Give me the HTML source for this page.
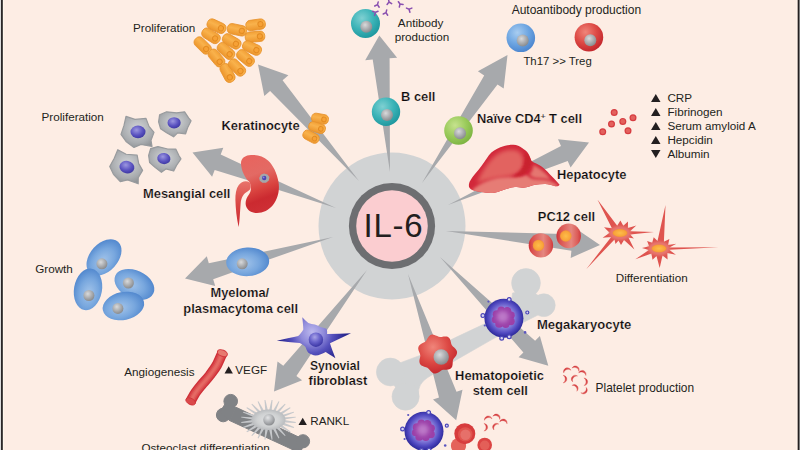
<!DOCTYPE html>
<html><head><meta charset="utf-8"><title>IL-6</title>
<style>
html,body{margin:0;padding:0;background:#FDEDE4;}
body{width:800px;height:450px;overflow:hidden;font-family:"Liberation Sans",sans-serif;}
svg{display:block;}
text{font-family:"Liberation Sans",sans-serif;fill:#231F20;}
</style></head><body>
<svg width="800" height="450" viewBox="0 0 800 450">
<defs>
<radialGradient id="gNuc" cx="40%" cy="35%" r="65%"><stop offset="0" stop-color="#D9DADB"/><stop offset="0.6" stop-color="#A9ABAE"/><stop offset="1" stop-color="#8A8C8F"/></radialGradient>
<radialGradient id="gTeal" cx="38%" cy="32%" r="70%"><stop offset="0" stop-color="#7FD0D2"/><stop offset="0.55" stop-color="#3CB4B8"/><stop offset="1" stop-color="#1E989F"/></radialGradient>
<radialGradient id="gBlue" cx="38%" cy="32%" r="70%"><stop offset="0" stop-color="#A9CDF0"/><stop offset="0.55" stop-color="#6EA6E2"/><stop offset="1" stop-color="#4C86CF"/></radialGradient>
<radialGradient id="gRed" cx="38%" cy="32%" r="70%"><stop offset="0" stop-color="#F0857A"/><stop offset="0.55" stop-color="#DD4A45"/><stop offset="1" stop-color="#C4272D"/></radialGradient>
<radialGradient id="gGreen" cx="38%" cy="32%" r="70%"><stop offset="0" stop-color="#C6E28E"/><stop offset="0.55" stop-color="#9BCB5C"/><stop offset="1" stop-color="#7DB441"/></radialGradient>
<linearGradient id="gKer" x1="0" y1="0" x2="0" y2="1"><stop offset="0" stop-color="#F2A036"/><stop offset="0.4" stop-color="#F9B24C"/><stop offset="1" stop-color="#EC952C"/></linearGradient>
<radialGradient id="gMye" cx="42%" cy="55%" r="62%"><stop offset="0" stop-color="#A3C4EA"/><stop offset="0.55" stop-color="#78A7DE"/><stop offset="1" stop-color="#4D84CC"/></radialGradient>
<radialGradient id="gMes" cx="50%" cy="40%" r="65%"><stop offset="0" stop-color="#D4D6D8"/><stop offset="0.7" stop-color="#A9ACAF"/><stop offset="1" stop-color="#8F9295"/></radialGradient>
<radialGradient id="gMesN" cx="40%" cy="35%" r="70%"><stop offset="0" stop-color="#9C97E0"/><stop offset="0.6" stop-color="#5A52C0"/><stop offset="1" stop-color="#3B35A0"/></radialGradient>
<radialGradient id="gPC" cx="50%" cy="45%" r="60%"><stop offset="0" stop-color="#F08A76"/><stop offset="0.6" stop-color="#E0524A"/><stop offset="1" stop-color="#C9302F"/></radialGradient>
<linearGradient id="gPC2" x1="0" y1="0" x2="1" y2="0"><stop offset="0" stop-color="#CF2F36"/><stop offset="0.14" stop-color="#DA504E"/><stop offset="0.6" stop-color="#E58780"/><stop offset="0.86" stop-color="#DC5C58"/><stop offset="1" stop-color="#D0383C"/></linearGradient>
<radialGradient id="gPCN" cx="50%" cy="50%" r="55%"><stop offset="0" stop-color="#FDBE4A"/><stop offset="0.7" stop-color="#F9A43A"/><stop offset="1" stop-color="#F08A35"/></radialGradient>
<radialGradient id="gMega" cx="50%" cy="48%" r="52%"><stop offset="0" stop-color="#ADA5EA"/><stop offset="0.5" stop-color="#8A82DC"/><stop offset="0.78" stop-color="#5048C0"/><stop offset="1" stop-color="#2A2798"/></radialGradient>
<radialGradient id="gMegaN" cx="50%" cy="45%" r="60%"><stop offset="0" stop-color="#D88AD0"/><stop offset="1" stop-color="#9A50B4"/></radialGradient>
<linearGradient id="gKid" x1="0.2" y1="0" x2="0.45" y2="1"><stop offset="0" stop-color="#E8645E"/><stop offset="0.35" stop-color="#E36A64"/><stop offset="0.62" stop-color="#D9433F"/><stop offset="0.8" stop-color="#CB2A30"/><stop offset="1" stop-color="#CE2F35"/></linearGradient>
<linearGradient id="gUre" x1="0" y1="0" x2="0" y2="1"><stop offset="0" stop-color="#E8736B"/><stop offset="0.5" stop-color="#DA4644"/><stop offset="1" stop-color="#CC2A31"/></linearGradient>
<linearGradient id="gLiv" x1="0.1" y1="0.9" x2="0.6" y2="0.1"><stop offset="0" stop-color="#D1222F"/><stop offset="0.3" stop-color="#DB4145"/><stop offset="0.6" stop-color="#DE504E"/><stop offset="1" stop-color="#D4323A"/></linearGradient>
<linearGradient id="gVes" x1="0" y1="0" x2="1" y2="0.6"><stop offset="0" stop-color="#EE7C70"/><stop offset="0.5" stop-color="#DA4A46"/><stop offset="1" stop-color="#C2272D"/></linearGradient>
<radialGradient id="gSyn" gradientUnits="userSpaceOnUse" cx="312" cy="332" r="34"><stop offset="0" stop-color="#BDB9EE"/><stop offset="0.35" stop-color="#8F8ADA"/><stop offset="0.62" stop-color="#5550BC"/><stop offset="1" stop-color="#25238C"/></radialGradient>
<radialGradient id="gSynN" cx="42%" cy="32%" r="68%"><stop offset="0" stop-color="#A9A4E6"/><stop offset="0.5" stop-color="#6A64CC"/><stop offset="1" stop-color="#3A35A4"/></radialGradient>
<linearGradient id="gPlt" x1="0" y1="0" x2="1" y2="0"><stop offset="0" stop-color="#CF2C33"/><stop offset="1" stop-color="#E36A66"/></linearGradient>
<radialGradient id="gOst" cx="50%" cy="50%" r="55%"><stop offset="0" stop-color="#E2E3E4"/><stop offset="0.6" stop-color="#CFD1D2"/><stop offset="1" stop-color="#B4B6B9"/></radialGradient>
<radialGradient id="gNuc2" cx="40%" cy="32%" r="65%"><stop offset="0" stop-color="#E4E5E6"/><stop offset="0.6" stop-color="#B0B2B5"/><stop offset="1" stop-color="#8E9093"/></radialGradient>
<filter id="b1" x="-20%" y="-20%" width="140%" height="140%"><feGaussianBlur stdDeviation="1"/></filter>
<filter id="b15" x="-20%" y="-20%" width="140%" height="140%"><feGaussianBlur stdDeviation="1.4"/></filter>
<filter id="b2" x="-20%" y="-20%" width="140%" height="140%"><feGaussianBlur stdDeviation="2.2"/></filter>
<filter id="b05" x="-20%" y="-20%" width="140%" height="140%"><feGaussianBlur stdDeviation="0.5"/></filter>
</defs>
<rect width="800" height="450" fill="#FDEDE4"/>

<circle cx="392" cy="226" r="73.5" fill="#D1D3D4"/>
<g fill="#D1D3D4" stroke="#D1D3D4" stroke-width="0.6"><path d="M397,364 L420,355.4 L455.4,337.6 L485.7,323.3 L504,314.5 Q511.5,310 512.5,293 L530,290 L545,300 L541,313.5 L520,324 L489.2,341.1 L453.6,361.4 L427,378 Q418,384 418.5,394 L400,394 L388,376 Z"/><circle cx="390.3" cy="372" r="13.9"/><circle cx="405.6" cy="396.6" r="13.6"/><circle cx="526" cy="283" r="14.4"/><circle cx="543.8" cy="305.2" r="11.4"/></g>
<polygon fill="#A7A9AC" points="359.0,181.0 282.6,80.3 288.4,75.2 258.0,64.5 264.3,96.1 270.1,91.1 359.0,181.0"/>
<polygon fill="#A7A9AC" points="336.0,208.0 220.7,154.5 223.3,147.8 192.5,152.5 212.1,176.7 214.7,169.9 336.0,208.0"/>
<polygon fill="#A7A9AC" points="390.0,172.0 389.6,58.3 397.1,57.7 379.3,35.5 365.2,60.2 372.7,59.6 390.0,172.0"/>
<polygon fill="#A7A9AC" points="422.0,183.0 497.5,84.4 503.7,88.6 507.5,55.0 477.9,71.3 484.2,75.5 422.0,183.0"/>
<polygon fill="#A7A9AC" points="448.0,205.0 567.7,161.0 570.6,167.6 589.0,142.5 558.0,139.3 561.0,145.9 448.0,205.0"/>
<polygon fill="#A7A9AC" points="446.0,231.0 571.4,250.7 570.7,257.9 600.0,245.0 573.5,227.0 572.9,234.2 446.0,231.0"/>
<polygon fill="#A7A9AC" points="440.0,257.0 523.4,352.5 518.6,357.2 548.3,365.8 539.9,336.1 535.1,340.8 440.0,257.0"/>
<polygon fill="#A7A9AC" points="408.0,274.0 439.0,397.5 433.0,399.4 456.2,420.2 462.5,389.7 456.5,391.7 408.0,274.0"/>
<polygon fill="#A7A9AC" points="367.0,270.0 283.3,365.8 277.5,361.4 274.0,391.5 302.1,380.3 296.4,375.9 367.0,270.0"/>
<polygon fill="#A7A9AC" points="333.0,237.0 208.8,263.3 206.8,256.3 185.0,278.5 215.2,286.1 213.2,279.2 333.0,237.0"/>
<circle cx="392" cy="226" r="43.1" fill="#6D6E71"/><circle cx="392" cy="226" r="35.8" fill="#FBCDD0"/>
<text x="363.6" y="237.1" font-size="33.00" font-weight="400" text-anchor="start" letter-spacing="0.75">IL-6</text>
<g transform="translate(216.5,26.2) rotate(25.0)"><rect x="-9.8" y="-5.2" width="19.6" height="10.4" rx="4.6" fill="url(#gKer)" stroke="#E7922C" stroke-width="0.8"/><circle cx="4.9" cy="0" r="2.6" fill="#F6A136" stroke="#E38B22" stroke-width="1"/></g>
<g transform="translate(237.0,29.8) rotate(12.0)"><rect x="-9.8" y="-5.2" width="19.6" height="10.4" rx="4.6" fill="url(#gKer)" stroke="#E7922C" stroke-width="0.8"/><circle cx="4.9" cy="0" r="2.6" fill="#F6A136" stroke="#E38B22" stroke-width="1"/></g>
<g transform="translate(255.6,24.8) rotate(-8.0)"><rect x="-9.8" y="-5.2" width="19.6" height="10.4" rx="4.6" fill="url(#gKer)" stroke="#E7922C" stroke-width="0.8"/><circle cx="4.9" cy="0" r="2.6" fill="#F6A136" stroke="#E38B22" stroke-width="1"/></g>
<g transform="translate(211.0,35.8) rotate(32.0)"><rect x="-9.8" y="-5.2" width="19.6" height="10.4" rx="4.6" fill="url(#gKer)" stroke="#E7922C" stroke-width="0.8"/><circle cx="4.9" cy="0" r="2.6" fill="#F6A136" stroke="#E38B22" stroke-width="1"/></g>
<g transform="translate(231.7,41.4) rotate(30.0)"><rect x="-9.8" y="-5.2" width="19.6" height="10.4" rx="4.6" fill="url(#gKer)" stroke="#E7922C" stroke-width="0.8"/><circle cx="4.9" cy="0" r="2.6" fill="#F6A136" stroke="#E38B22" stroke-width="1"/></g>
<g transform="translate(255.0,36.7) rotate(-5.0)"><rect x="-9.8" y="-5.2" width="19.6" height="10.4" rx="4.6" fill="url(#gKer)" stroke="#E7922C" stroke-width="0.8"/><circle cx="4.9" cy="0" r="2.6" fill="#F6A136" stroke="#E38B22" stroke-width="1"/></g>
<g transform="translate(202.7,45.5) rotate(45.0)"><rect x="-9.8" y="-5.2" width="19.6" height="10.4" rx="4.6" fill="url(#gKer)" stroke="#E7922C" stroke-width="0.8"/><circle cx="4.9" cy="0" r="2.6" fill="#F6A136" stroke="#E38B22" stroke-width="1"/></g>
<g transform="translate(226.0,51.0) rotate(42.0)"><rect x="-9.8" y="-5.2" width="19.6" height="10.4" rx="4.6" fill="url(#gKer)" stroke="#E7922C" stroke-width="0.8"/><circle cx="4.9" cy="0" r="2.6" fill="#F6A136" stroke="#E38B22" stroke-width="1"/></g>
<g transform="translate(252.0,48.0) rotate(25.0)"><rect x="-9.8" y="-5.2" width="19.6" height="10.4" rx="4.6" fill="url(#gKer)" stroke="#E7922C" stroke-width="0.8"/><circle cx="4.9" cy="0" r="2.6" fill="#F6A136" stroke="#E38B22" stroke-width="1"/></g>
<g transform="translate(216.5,58.0) rotate(50.0)"><rect x="-9.8" y="-5.2" width="19.6" height="10.4" rx="4.6" fill="url(#gKer)" stroke="#E7922C" stroke-width="0.8"/><circle cx="4.9" cy="0" r="2.6" fill="#F6A136" stroke="#E38B22" stroke-width="1"/></g>
<g transform="translate(245.5,58.0) rotate(40.0)"><rect x="-9.8" y="-5.2" width="19.6" height="10.4" rx="4.6" fill="url(#gKer)" stroke="#E7922C" stroke-width="0.8"/><circle cx="4.9" cy="0" r="2.6" fill="#F6A136" stroke="#E38B22" stroke-width="1"/></g>
<g transform="translate(227.5,73.0) rotate(62.0)"><rect x="-9.8" y="-5.2" width="19.6" height="10.4" rx="4.6" fill="url(#gKer)" stroke="#E7922C" stroke-width="0.8"/><circle cx="4.9" cy="0" r="2.6" fill="#F6A136" stroke="#E38B22" stroke-width="1"/></g>
<g transform="translate(237.0,67.5) rotate(45.0)"><rect x="-9.8" y="-5.2" width="19.6" height="10.4" rx="4.6" fill="url(#gKer)" stroke="#E7922C" stroke-width="0.8"/><circle cx="4.9" cy="0" r="2.6" fill="#F6A136" stroke="#E38B22" stroke-width="1"/></g>
<g transform="translate(320.0,118.7) rotate(10.0)"><rect x="-8.5" y="-4.8" width="17.0" height="9.5" rx="4.2" fill="url(#gKer)" stroke="#E7922C" stroke-width="0.8"/><circle cx="4.0" cy="0" r="2.3" fill="#F6A136" stroke="#E38B22" stroke-width="1"/></g>
<g transform="translate(317.0,127.6) rotate(18.0)"><rect x="-8.5" y="-4.8" width="17.0" height="9.5" rx="4.2" fill="url(#gKer)" stroke="#E7922C" stroke-width="0.8"/><circle cx="4.0" cy="0" r="2.3" fill="#F6A136" stroke="#E38B22" stroke-width="1"/></g>
<g transform="translate(311.0,136.7) rotate(28.0)"><rect x="-8.5" y="-4.8" width="17.0" height="9.5" rx="4.2" fill="url(#gKer)" stroke="#E7922C" stroke-width="0.8"/><circle cx="4.0" cy="0" r="2.3" fill="#F6A136" stroke="#E38B22" stroke-width="1"/></g>
<g transform="translate(138.0,131.4) rotate(0) scale(1.00)"><path d="M-12,-15 L-3,-12 L8,-13 L11,-5 L16,1 L13,9 L14,15 L3,13 L-4,16 L-12,10 L-17,3 L-14,-6 Z" fill="url(#gMes)" stroke="#989B9E" stroke-width="1.2" stroke-linejoin="round"/><ellipse cx="0" cy="0.5" rx="7.5" ry="6.3" fill="url(#gMesN)"/></g>
<g transform="translate(174.6,123.8) rotate(0)"><path d="M-15,-9 L-8,-12 L2,-11 L10,-12 L14,-6 L16.5,-3 L13,4 L11,10 L3,9 L-1,13 L-8,9 L-14,5 L-16,-2 Z" fill="url(#gMes)" stroke="#989B9E" stroke-width="1.2" stroke-linejoin="round"/><ellipse cx="-0.5" cy="-1" rx="6.6" ry="5.6" fill="url(#gMesN)"/></g>
<g transform="translate(127.0,166.6) rotate(10) scale(1.00)"><path d="M-12,-15 L-3,-12 L8,-13 L11,-5 L16,1 L13,9 L14,15 L3,13 L-4,16 L-12,10 L-17,3 L-14,-6 Z" fill="url(#gMes)" stroke="#989B9E" stroke-width="1.2" stroke-linejoin="round"/><ellipse cx="0" cy="0.5" rx="7.5" ry="6.3" fill="url(#gMesN)"/></g>
<g transform="translate(164.2,159.6) rotate(8)"><path d="M-15,-9 L-8,-12 L2,-11 L10,-12 L14,-6 L16.5,-3 L13,4 L11,10 L3,9 L-1,13 L-8,9 L-14,5 L-16,-2 Z" fill="url(#gMes)" stroke="#989B9E" stroke-width="1.2" stroke-linejoin="round"/><ellipse cx="-0.5" cy="-1" rx="6.6" ry="5.6" fill="url(#gMesN)"/></g>
<path d="M249.2,181.8 C245,178 241.5,171 241,164 C240.8,159 244,156 249,155.3 C256,154.3 263,156 268,160.5 C273,165 277,173 278.5,182 C279.8,190 278,199 273,205 C269,210 263,213 257,213 C251.5,213 247.5,210.5 246,206 C244.8,202 246.5,198 248.6,195 C250.3,192.5 251.2,190 250.8,187 C250.6,185 250,183 249.2,181.8 Z" fill="url(#gKid)"/>
<path d="M249.8,182.5 C246,180 241.5,181.5 238.8,185 C236,188.7 235.3,194 235.4,200 C235.6,208 236.6,218 238.6,227 C239.6,222 240,212 240.6,204 C241.1,198 243,194.5 246,192.5 C248,191.2 250,190.3 250.6,188 C251,186 250.6,184 249.8,182.5 Z" fill="url(#gUre)"/>
<path d="M259.2,178 l1.6,-3.2 l3.2,-1.3 l3.4,1 l2,2.6 l-0.6,3.4 l-2.8,2.3 l-3.6,0 l-2.6,-2z" fill="#A4A7AB"/><circle cx="264.2" cy="178" r="2.2" fill="#4A43B4"/><circle cx="263.6" cy="177.4" r="0.9" fill="#8C86DC"/>
<circle cx="365.5" cy="23.4" r="14.5" fill="url(#gTeal)"/><circle cx="366.3" cy="26.7" r="6.0" fill="url(#gNuc)"/>
<circle cx="386.0" cy="111.7" r="14.2" fill="url(#gTeal)"/><circle cx="387.0" cy="115.0" r="6.0" fill="url(#gNuc)"/>
<g transform="translate(377.5,4.6) rotate(195)" stroke="#8A50B0" stroke-width="1.5" fill="none" stroke-linecap="round"><path d="M0,2.8 L0,0 L-2.3,-2.1 M0,0 L2.3,-2.1"/></g>
<g transform="translate(389.0,2.0) rotate(170)" stroke="#8A50B0" stroke-width="1.5" fill="none" stroke-linecap="round"><path d="M0,2.8 L0,0 L-2.3,-2.1 M0,0 L2.3,-2.1"/></g>
<g transform="translate(400.0,4.0) rotate(145)" stroke="#8A50B0" stroke-width="1.5" fill="none" stroke-linecap="round"><path d="M0,2.8 L0,0 L-2.3,-2.1 M0,0 L2.3,-2.1"/></g>
<g transform="translate(409.0,9.3) rotate(115)" stroke="#8A50B0" stroke-width="1.5" fill="none" stroke-linecap="round"><path d="M0,2.8 L0,0 L-2.3,-2.1 M0,0 L2.3,-2.1"/></g>
<g transform="translate(375.5,12.4) rotate(245)" stroke="#8A50B0" stroke-width="1.5" fill="none" stroke-linecap="round"><path d="M0,2.8 L0,0 L-2.3,-2.1 M0,0 L2.3,-2.1"/></g>
<g transform="translate(386.0,12.6) rotate(195)" stroke="#8A50B0" stroke-width="1.5" fill="none" stroke-linecap="round"><path d="M0,2.8 L0,0 L-2.3,-2.1 M0,0 L2.3,-2.1"/></g>
<circle cx="520.8" cy="37.8" r="14.3" fill="url(#gBlue)"/><circle cx="522.7" cy="40.5" r="6.0" fill="url(#gNuc)"/>
<circle cx="588.9" cy="37.2" r="14.3" fill="url(#gRed)"/><circle cx="590.3" cy="40.3" r="6.0" fill="url(#gNuc)"/>
<circle cx="458.5" cy="130.5" r="14.3" fill="url(#gGreen)"/><circle cx="460.0" cy="133.2" r="6.0" fill="url(#gNuc)"/>
<clipPath id="cLiv"><path d="M468.9,184.5 C469.5,182 470,181 470.8,179.8 C473,176 476,173 478.8,169.6 C482,165.5 485.5,160 488.9,155.2 C492,151.5 496,149 500.4,147.3 C504.5,145.6 509,144.8 513.4,144.8 C516.8,144.9 519.7,146.2 522.1,148 C524.4,149.5 526.4,151 527.9,153 C529.6,155.5 530.4,158.5 531.5,161 C534.5,163 538,164.3 540.8,166 C544,168.3 547,171 549.5,174 C553,177.5 556.5,181 559.6,184.8 C558.5,186.2 557,186.5 555.3,186.2 C552,185.3 548.5,184.3 545.2,184.1 C541.8,184 538.4,184.6 535.1,184.8 C531,185.7 527.5,187.3 523.5,187.7 C520.5,187.9 517.8,187 514.9,187 C512,187.3 509,188.3 506.2,189.1 C502.5,190.5 498.5,192 494.6,192.7 C490.3,193.2 486,192.7 481.7,192 C478.5,191.5 475,191 472.3,189.9 C470.3,189 469,187.6 468.9,186.2 Z"/></clipPath>
<path d="M468.9,184.5 C469.5,182 470,181 470.8,179.8 C473,176 476,173 478.8,169.6 C482,165.5 485.5,160 488.9,155.2 C492,151.5 496,149 500.4,147.3 C504.5,145.6 509,144.8 513.4,144.8 C516.8,144.9 519.7,146.2 522.1,148 C524.4,149.5 526.4,151 527.9,153 C529.6,155.5 530.4,158.5 531.5,161 C534.5,163 538,164.3 540.8,166 C544,168.3 547,171 549.5,174 C553,177.5 556.5,181 559.6,184.8 C558.5,186.2 557,186.5 555.3,186.2 C552,185.3 548.5,184.3 545.2,184.1 C541.8,184 538.4,184.6 535.1,184.8 C531,185.7 527.5,187.3 523.5,187.7 C520.5,187.9 517.8,187 514.9,187 C512,187.3 509,188.3 506.2,189.1 C502.5,190.5 498.5,192 494.6,192.7 C490.3,193.2 486,192.7 481.7,192 C478.5,191.5 475,191 472.3,189.9 C470.3,189 469,187.6 468.9,186.2 Z" fill="#D2283A"/>
<g clip-path="url(#cLiv)">
<g filter="url(#b2)"><path d="M477,183 C481,172 488,162 496,155 C503,150 512,148.5 518,151 C523,154 524.5,160 523,166 C521,172 515,175.5 508,176.5 C498,177.5 486,180 477,183Z" fill="#E26360"/></g>
<g filter="url(#b15)"><path d="M473,189 C480,183.5 488,180 496,178.2 C503,177 510,177.2 516,177 C520,176.8 523.5,176.4 526,175 C529,176.8 531,178.8 535,179.3 C541,179.8 547,179.5 552,181.8 L559,186 L552,188 L520,191 L490,196 L472,193 Z" fill="#E67B75"/></g>
<g filter="url(#b15)"><path d="M533.5,165 C538,167.5 543,170.5 547,175 C548.5,177 550,178.5 551,180 C546,178.3 541,178.6 535.5,178 C533,177.6 531,176 529.5,174.5 C532,172 533.3,168.5 533.5,165Z" fill="#E57670"/></g>
<g filter="url(#b1)"><path d="M531.5,160 C531.5,166 528.5,171.5 523,175 C520,176.5 516,176.8 512,176.7 C517,174.5 521,171 523,167 C525,162.5 525.3,157 524.5,152 C528,154 530.5,156.5 531.5,160 Z" fill="#C9202F"/></g>
</g>
<circle cx="614.2" cy="112.5" r="3.5" fill="#D63C40"/><circle cx="614.2" cy="112.5" r="2.3" fill="#E3615D"/>
<circle cx="633.0" cy="117.8" r="3.5" fill="#D63C40"/><circle cx="633.0" cy="117.8" r="2.3" fill="#E3615D"/>
<circle cx="622.8" cy="121.4" r="3.5" fill="#D63C40"/><circle cx="622.8" cy="121.4" r="2.3" fill="#E3615D"/>
<circle cx="611.5" cy="124.0" r="3.5" fill="#D63C40"/><circle cx="611.5" cy="124.0" r="2.3" fill="#E3615D"/>
<circle cx="602.7" cy="131.8" r="3.5" fill="#D63C40"/><circle cx="602.7" cy="131.8" r="2.3" fill="#E3615D"/>
<circle cx="628.0" cy="130.7" r="3.5" fill="#D63C40"/><circle cx="628.0" cy="130.7" r="2.3" fill="#E3615D"/>
<circle cx="540.9" cy="245.4" r="12.2" fill="url(#gPC2)"/><circle cx="538.5" cy="245.4" r="5.7" fill="url(#gPCN)"/>
<circle cx="568.7" cy="235.9" r="12.3" fill="url(#gPC2)"/><circle cx="565.8" cy="236" r="5.8" fill="url(#gPCN)"/>
<polygon points="654.0,232.1 630.1,234.4 633.9,238.6 628.4,237.4 634.4,249.6 624.0,240.0 621.0,245.0 618.5,240.5 615.5,244.1 614.5,239.4 586.2,269.2 611.2,236.9 602.6,237.7 609.7,232.7 604.0,227.2 611.9,228.3 597.4,199.4 617.2,225.7 620.4,220.5 623.3,225.8 628.0,221.5 627.9,228.1 636.3,225.4 630.0,231.3" fill="#DF544F"/><ellipse cx="620.0" cy="233.0" rx="11" ry="7" fill="#E7776F" filter="url(#b1)"/><ellipse cx="620.0" cy="233.0" rx="7.5" ry="4.0" fill="url(#gPCN)"/>
<polygon points="718.5,247.2 669.1,249.7 675.9,254.7 667.3,253.0 667.6,259.5 662.5,255.6 659.7,268.0 656.5,255.9 652.5,259.8 651.4,253.6 635.3,259.3 648.9,250.0 642.0,247.9 649.2,246.3 647.1,241.1 652.2,242.8 653.7,237.2 657.5,241.0 665.5,205.0 663.9,241.8 669.4,239.1 668.0,244.9 676.4,243.8 669.2,247.4" fill="#DF544F"/><ellipse cx="659.0" cy="248.5" rx="11" ry="7" fill="#E7776F" filter="url(#b1)"/><ellipse cx="659.0" cy="248.5" rx="7.5" ry="4.0" fill="url(#gPCN)"/>
<circle cx="503.9" cy="318.2" r="19.5" fill="url(#gMega)"/><g filter="url(#b05)"><circle cx="503.2" cy="317.2" r="7.5" fill="#9B3FA8"/><circle cx="496.7" cy="314.2" r="4.0" fill="#9B3FA8"/><circle cx="501.2" cy="310.2" r="3.8" fill="#9B3FA8"/><circle cx="507.2" cy="311.2" r="4.2" fill="#9B3FA8"/><circle cx="511.2" cy="315.2" r="3.6" fill="#9B3FA8"/><circle cx="510.7" cy="321.2" r="4.0" fill="#9B3FA8"/><circle cx="505.7" cy="324.2" r="3.8" fill="#9B3FA8"/><circle cx="499.2" cy="323.7" r="4.0" fill="#9B3FA8"/><circle cx="495.2" cy="319.7" r="3.4" fill="#9B3FA8"/></g><circle cx="502.7" cy="316.7" r="6" fill="#BC78C8" filter="url(#b2)"/><circle cx="509.2" cy="299.5" r="1.9" fill="#D9D6F2" stroke="#4A44B8" stroke-width="1.2"/><circle cx="482.9" cy="315.6" r="1.9" fill="#D9D6F2" stroke="#4A44B8" stroke-width="1.2"/><circle cx="501.7" cy="338.2" r="1.9" fill="#D9D6F2" stroke="#4A44B8" stroke-width="1.2"/><circle cx="509.2" cy="336.7" r="1.9" fill="#D9D6F2" stroke="#4A44B8" stroke-width="1.2"/><circle cx="527.3" cy="312.5" r="1.5" fill="#D9D6F2" stroke="#4A44B8" stroke-width="1.2"/><circle cx="525.1" cy="332.4" r="1.3" fill="#5A55C0"/><circle cx="488.4" cy="301.6" r="1.1" fill="#5A55C0"/><circle cx="484.8" cy="325.5" r="1.1" fill="#5A55C0"/>
<circle cx="424.0" cy="431.2" r="19.5" fill="url(#gMega)"/><g filter="url(#b05)"><circle cx="423.3" cy="430.2" r="7.5" fill="#9B3FA8"/><circle cx="416.8" cy="427.2" r="4.0" fill="#9B3FA8"/><circle cx="421.3" cy="423.2" r="3.8" fill="#9B3FA8"/><circle cx="427.3" cy="424.2" r="4.2" fill="#9B3FA8"/><circle cx="431.3" cy="428.2" r="3.6" fill="#9B3FA8"/><circle cx="430.8" cy="434.2" r="4.0" fill="#9B3FA8"/><circle cx="425.8" cy="437.2" r="3.8" fill="#9B3FA8"/><circle cx="419.3" cy="436.7" r="4.0" fill="#9B3FA8"/><circle cx="415.3" cy="432.7" r="3.4" fill="#9B3FA8"/></g><circle cx="422.8" cy="429.7" r="6" fill="#BC78C8" filter="url(#b2)"/><circle cx="428.6" cy="412.5" r="1.9" fill="#D9D6F2" stroke="#4A44B8" stroke-width="1.2"/><circle cx="402.6" cy="429.0" r="1.9" fill="#D9D6F2" stroke="#4A44B8" stroke-width="1.2"/><circle cx="446.8" cy="425.7" r="1.5" fill="#D9D6F2" stroke="#4A44B8" stroke-width="1.2"/><circle cx="445.2" cy="445.5" r="1.3" fill="#5A55C0"/><circle cx="408.2" cy="415.0" r="1.1" fill="#5A55C0"/><circle cx="404.6" cy="439.0" r="1.1" fill="#5A55C0"/><circle cx="421.5" cy="450.5" r="1.9" fill="#D9D6F2" stroke="#4A44B8" stroke-width="1.2"/><circle cx="429.0" cy="450.0" r="1.9" fill="#D9D6F2" stroke="#4A44B8" stroke-width="1.2"/>
<path d="M456.9,353.8 L456.2,355.5 L455.1,356.9 L454.0,358.3 L453.2,359.6 L452.8,361.1 L452.7,362.7 L452.6,364.6 L452.2,366.4 L451.3,367.9 L450.0,369.0 L448.2,369.6 L446.4,369.7 L444.6,369.7 L443.0,369.8 L441.6,370.3 L440.3,371.2 L438.8,372.2 L437.2,373.1 L435.5,373.6 L433.7,373.4 L432.2,372.6 L430.8,371.3 L429.7,369.9 L428.6,368.7 L427.4,367.7 L426.0,367.2 L424.3,366.7 L422.6,366.1 L421.0,365.2 L419.9,363.8 L419.4,362.1 L419.4,360.3 L419.8,358.5 L420.2,356.8 L420.3,355.3 L419.9,353.8 L419.3,352.2 L418.6,350.5 L418.2,348.7 L418.4,347.0 L419.2,345.4 L420.6,344.2 L422.2,343.3 L423.8,342.6 L425.2,341.8 L426.2,340.7 L427.0,339.3 L427.9,337.7 L429.0,336.2 L430.4,335.1 L432.0,334.6 L433.8,334.7 L435.6,335.4 L437.2,336.1 L438.7,336.8 L440.2,337.0 L441.7,336.9 L443.5,336.6 L445.3,336.4 L447.1,336.6 L448.7,337.4 L449.8,338.8 L450.5,340.5 L450.9,342.3 L451.3,343.9 L451.9,345.3 L452.9,346.5 L454.2,347.6 L455.6,348.9 L456.6,350.4 L457.1,352.1Z" fill="url(#gRed)"/>
<circle cx="441.2" cy="357" r="7.7" fill="url(#gNuc)"/>
<circle cx="458.5" cy="445.7" r="7.6" fill="#E4625A"/>
<circle cx="464.8" cy="433.7" r="10.5" fill="#D73C3D"/><circle cx="465.3" cy="434.4" r="7.2" fill="#E0554F"/><circle cx="465.5" cy="434.8" r="5.2" fill="#E6706A" filter="url(#b05)"/>
<circle cx="484.7" cy="445" r="7.3" fill="#DB4443"/><circle cx="484.7" cy="445.3" r="4.8" fill="#E35F59" filter="url(#b05)"/>
<path transform="translate(566.6,369.6) rotate(-20) scale(1.00)" d="M-3.8,2.1 C-3.5,-2.9 3.5,-2.9 3.8,2.1 C2.3,-0.7 -2.3,-0.7 -3.8,2.1Z" fill="url(#gPlt)" stroke="#D8403F" stroke-width="0.3" stroke-linejoin="round"/>
<path transform="translate(576.3,367.8) rotate(25) scale(1.00)" d="M-3.8,2.1 C-3.5,-2.9 3.5,-2.9 3.8,2.1 C2.3,-0.7 -2.3,-0.7 -3.8,2.1Z" fill="url(#gPlt)" stroke="#D8403F" stroke-width="0.3" stroke-linejoin="round"/>
<path transform="translate(583.0,372.2) rotate(20) scale(1.00)" d="M-3.8,2.1 C-3.5,-2.9 3.5,-2.9 3.8,2.1 C2.3,-0.7 -2.3,-0.7 -3.8,2.1Z" fill="url(#gPlt)" stroke="#D8403F" stroke-width="0.3" stroke-linejoin="round"/>
<path transform="translate(565.2,379.1) rotate(90) scale(1.00)" d="M-3.8,2.1 C-3.5,-2.9 3.5,-2.9 3.8,2.1 C2.3,-0.7 -2.3,-0.7 -3.8,2.1Z" fill="url(#gPlt)" stroke="#D8403F" stroke-width="0.3" stroke-linejoin="round"/>
<path transform="translate(573.5,377.6) rotate(-50) scale(1.00)" d="M-3.8,2.1 C-3.5,-2.9 3.5,-2.9 3.8,2.1 C2.3,-0.7 -2.3,-0.7 -3.8,2.1Z" fill="url(#gPlt)" stroke="#D8403F" stroke-width="0.3" stroke-linejoin="round"/>
<path transform="translate(586.0,381.8) rotate(90) scale(1.00)" d="M-3.8,2.1 C-3.5,-2.9 3.5,-2.9 3.8,2.1 C2.3,-0.7 -2.3,-0.7 -3.8,2.1Z" fill="url(#gPlt)" stroke="#D8403F" stroke-width="0.3" stroke-linejoin="round"/>
<path transform="translate(576.0,387.0) rotate(50) scale(1.00)" d="M-3.8,2.1 C-3.5,-2.9 3.5,-2.9 3.8,2.1 C2.3,-0.7 -2.3,-0.7 -3.8,2.1Z" fill="url(#gPlt)" stroke="#D8403F" stroke-width="0.3" stroke-linejoin="round"/>
<path transform="translate(585.0,391.6) rotate(135) scale(1.00)" d="M-3.8,2.1 C-3.5,-2.9 3.5,-2.9 3.8,2.1 C2.3,-0.7 -2.3,-0.7 -3.8,2.1Z" fill="url(#gPlt)" stroke="#D8403F" stroke-width="0.3" stroke-linejoin="round"/>
<path transform="translate(487.9,417.6) rotate(-10) scale(1.00)" d="M-3.8,2.1 C-3.5,-2.9 3.5,-2.9 3.8,2.1 C2.3,-0.7 -2.3,-0.7 -3.8,2.1Z" fill="url(#gPlt)" stroke="#D8403F" stroke-width="0.3" stroke-linejoin="round"/>
<path transform="translate(497.2,415.9) rotate(25) scale(1.00)" d="M-3.8,2.1 C-3.5,-2.9 3.5,-2.9 3.8,2.1 C2.3,-0.7 -2.3,-0.7 -3.8,2.1Z" fill="url(#gPlt)" stroke="#D8403F" stroke-width="0.3" stroke-linejoin="round"/>
<path transform="translate(503.9,420.8) rotate(15) scale(1.00)" d="M-3.8,2.1 C-3.5,-2.9 3.5,-2.9 3.8,2.1 C2.3,-0.7 -2.3,-0.7 -3.8,2.1Z" fill="url(#gPlt)" stroke="#D8403F" stroke-width="0.3" stroke-linejoin="round"/>
<path transform="translate(486.0,427.2) rotate(90) scale(1.00)" d="M-3.8,2.1 C-3.5,-2.9 3.5,-2.9 3.8,2.1 C2.3,-0.7 -2.3,-0.7 -3.8,2.1Z" fill="url(#gPlt)" stroke="#D8403F" stroke-width="0.3" stroke-linejoin="round"/>
<path transform="translate(494.8,425.7) rotate(-50) scale(1.00)" d="M-3.8,2.1 C-3.5,-2.9 3.5,-2.9 3.8,2.1 C2.3,-0.7 -2.3,-0.7 -3.8,2.1Z" fill="url(#gPlt)" stroke="#D8403F" stroke-width="0.3" stroke-linejoin="round"/>
<ellipse transform="rotate(-48 104.0 257.4)" cx="104.0" cy="257.4" rx="21.0" ry="14.0" fill="url(#gMye)"/><circle cx="101.9" cy="263.8" r="5.5" fill="url(#gNuc)"/>
<ellipse transform="rotate(-80 88.0 289.4)" cx="88.0" cy="289.4" rx="21.0" ry="14.0" fill="url(#gMye)"/><circle cx="88.9" cy="295.5" r="5.5" fill="url(#gNuc)"/>
<ellipse transform="rotate(25 134.4 284.4)" cx="134.4" cy="284.4" rx="21.0" ry="14.0" fill="url(#gMye)"/><circle cx="128.4" cy="283.0" r="5.5" fill="url(#gNuc)"/>
<ellipse transform="rotate(-12 123.4 306.0)" cx="123.4" cy="306.0" rx="21.0" ry="14.0" fill="url(#gMye)"/><circle cx="117.9" cy="308.4" r="5.5" fill="url(#gNuc)"/>
<ellipse transform="rotate(-3 247.7 261.8)" cx="247.7" cy="261.8" rx="21.5" ry="14.3" fill="url(#gMye)"/><circle cx="242.2" cy="263.8" r="5.5" fill="url(#gNuc)"/>
<path d="M276.8,340.8 C286,338.5 293,337.5 298.2,336.1 C300.5,334 302,332 303.3,329.6 C303.2,325 302.6,321 302.3,317.3 C304.5,319.5 306.5,321.5 308.4,323.1 C310.5,324 312.7,324.2 314.9,324.5 C316.7,325 318.3,325.8 319.9,326.7 C322,327.6 324.5,327.8 326.4,328.8 C327.3,330.4 327.2,332.2 327.1,333.9 C335,333.8 343,333.5 351,333.2 C344,336.5 337,339.8 330,343.3 C331.3,348 333.5,353 335.4,358.2 C332,356 328.5,353.8 325.7,352 C322.5,353.8 319,355.3 315.6,355.6 C313,355.2 310.5,354.2 308.4,352.7 C307,351 306.2,349 305.5,346.9 C303.8,345.2 301.8,343.8 299.7,342.9 C292,342.4 284,341.6 276.8,340.8 Z" fill="url(#gSyn)"/><circle cx="315.9" cy="339.7" r="7.2" fill="url(#gSynN)"/>
<g fill="none"><path d="M222.4,353.2 C220,358 219,361 217,364.9 C215,368.5 212.5,371.5 210,375 C207,379 204,382 201.4,385.1 C199,388 196.5,391 194.4,394.4 C193,396.8 191.6,399.2 190.6,401.4" stroke="#CF3038" stroke-width="10.4"/><path d="M222.4,353.2 C220,358 219,361 217,364.9 C215,368.5 212.5,371.5 210,375 C207,379 204,382 201.4,385.1 C199,388 196.5,391 194.4,394.4 C193,396.8 191.6,399.2 190.6,401.4" stroke="#D9464A" stroke-width="7.8"/><path d="M222.4,353.2 C220,358 219,361 217,364.9 C215,368.5 212.5,371.5 210,375 C207,379 204,382 201.4,385.1 C199,388 196.5,391 194.4,394.4 C193,396.8 191.6,399.2 190.6,401.4" stroke="#E15C59" stroke-width="5"/><path d="M222.4,353.2 C220,358 219,361 217,364.9 C215,368.5 212.5,371.5 210,375 C207,379 204,382 201.4,385.1 C199,388 196.5,391 194.4,394.4 C193,396.8 191.6,399.2 190.6,401.4" stroke="#E56A64" stroke-width="2.4"/></g>
<ellipse cx="222.4" cy="353.2" rx="5.2" ry="3.1" transform="rotate(22 222.4 353.2)" fill="#E77A70" stroke="#D23A40" stroke-width="1"/><ellipse cx="190.6" cy="401.4" rx="5.2" ry="3.1" transform="rotate(28 190.6 401.4)" fill="#DA4A4B" stroke="#D03339" stroke-width="0.8"/>
<g fill="#808285" stroke="#808285" stroke-width="1"><path d="M236.5,407.5 L306,440.5 L300,453 L229.5,420.5 Z"/><circle cx="230.7" cy="401.2" r="6.8"/><circle cx="223.2" cy="415" r="6.8"/><path d="M225,404 L236.5,407.5 L229.5,420.5 L220,412Z"/><circle cx="303" cy="441.3" r="6.6"/><circle cx="296" cy="455" r="6.6"/></g>
<g fill="#C6C8CB"><polygon points="281.2,422.2 295.7,422.9 295.8,422.0 281.6,419.5"/><polygon points="280.0,424.2 293.7,427.9 294.1,427.0 281.0,421.6"/><polygon points="278.0,425.8 290.0,432.3 290.6,431.6 279.7,423.6"/><polygon points="275.3,427.0 284.9,435.9 285.6,435.4 277.5,425.3"/><polygon points="272.2,427.7 278.6,438.4 279.4,438.1 274.8,426.7"/><polygon points="268.8,427.9 271.6,439.7 272.5,439.6 271.6,427.5"/><polygon points="265.4,427.5 264.5,439.6 265.4,439.7 268.2,427.9"/><polygon points="262.2,426.7 257.6,438.1 258.4,438.4 264.8,427.7"/><polygon points="259.5,425.3 251.4,435.4 252.1,435.9 261.7,427.0"/><polygon points="257.3,423.6 246.4,431.6 247.0,432.3 259.0,425.8"/><polygon points="256.0,421.6 242.9,427.0 243.3,427.9 257.0,424.2"/><polygon points="255.4,419.5 241.2,422.0 241.3,422.9 255.8,422.2"/><polygon points="255.8,417.4 241.3,416.7 241.2,417.6 255.4,420.1"/><polygon points="257.0,415.4 243.3,411.7 242.9,412.6 256.0,418.0"/><polygon points="259.0,413.8 247.0,407.3 246.4,408.0 257.3,416.0"/><polygon points="261.7,412.6 252.1,403.7 251.4,404.2 259.5,414.3"/><polygon points="264.8,411.9 258.4,401.2 257.6,401.5 262.2,412.9"/><polygon points="268.2,411.7 265.4,399.9 264.5,400.0 265.4,412.1"/><polygon points="271.6,412.1 272.5,400.0 271.6,399.9 268.8,411.7"/><polygon points="274.8,412.9 279.4,401.5 278.6,401.2 272.2,411.9"/><polygon points="277.5,414.3 285.6,404.2 284.9,403.7 275.3,412.6"/><polygon points="279.7,416.0 290.6,408.0 290.0,407.3 278.0,413.8"/><polygon points="281.0,418.0 294.1,412.6 293.7,411.7 280.0,415.4"/><polygon points="281.6,420.1 295.8,417.6 295.7,416.7 281.2,417.4"/></g>
<ellipse cx="268.5" cy="419.8" rx="17" ry="10.2" fill="url(#gOst)"/><circle cx="269" cy="419.8" r="5.8" fill="url(#gNuc2)"/>
<text x="133.0" y="32.2" font-size="11.70" font-weight="400" text-anchor="start" >Proliferation</text>
<text x="41.5" y="120.9" font-size="11.70" font-weight="400" text-anchor="start" >Proliferation</text>
<text x="420.6" y="26.5" font-size="11.70" font-weight="400" text-anchor="middle" >Antibody</text>
<text x="422.0" y="40.5" font-size="11.70" font-weight="400" text-anchor="middle" >production</text>
<text x="511.7" y="14.0" font-size="12.00" font-weight="400" text-anchor="start" >Autoantibody production</text>
<text x="523.4" y="64.8" font-size="11.40" font-weight="400" text-anchor="start" >Th17 &gt;&gt; Treg</text>
<polygon fill="#231F20" points="651.0,102.0 660.5,102.0 655.8,94.0"/>
<text x="667.4" y="102.3" font-size="11.70" font-weight="400" text-anchor="start" >CRP</text>
<polygon fill="#231F20" points="651.0,116.0 660.5,116.0 655.8,108.0"/>
<text x="667.4" y="116.3" font-size="11.70" font-weight="400" text-anchor="start" >Fibrinogen</text>
<polygon fill="#231F20" points="651.0,130.0 660.5,130.0 655.8,122.0"/>
<text x="667.4" y="130.3" font-size="11.70" font-weight="400" text-anchor="start" >Serum amyloid A</text>
<polygon fill="#231F20" points="651.0,144.0 660.5,144.0 655.8,136.0"/>
<text x="667.4" y="144.3" font-size="11.70" font-weight="400" text-anchor="start" >Hepcidin</text>
<polygon fill="#231F20" points="651.0,150.0 660.5,150.0 655.8,158.0"/>
<text x="667.4" y="158.3" font-size="11.70" font-weight="400" text-anchor="start" >Albumin</text>
<text x="615.8" y="282.0" font-size="11.70" font-weight="400" text-anchor="start" >Differentiation</text>
<text x="595.6" y="391.8" font-size="11.90" font-weight="400" text-anchor="start" >Platelet production</text>
<text x="35.2" y="272.9" font-size="11.70" font-weight="400" text-anchor="start" >Growth</text>
<text x="124.3" y="375.6" font-size="11.70" font-weight="400" text-anchor="start" >Angiogenesis</text>
<polygon fill="#231F20" points="224.5,373.6 232.9,373.6 228.7,366.3"/>
<text x="235.3" y="373.8" font-size="11.70" font-weight="400" text-anchor="start" >VEGF</text>
<polygon fill="#231F20" points="298.5,425.0 306.9,425.0 302.7,417.7"/>
<text x="310.2" y="425.2" font-size="11.70" font-weight="400" text-anchor="start" >RANKL</text>
<text x="141.4" y="452.3" font-size="11.70" font-weight="400" text-anchor="start" >Osteoclast differentiation</text>
<text x="221.5" y="129.5" font-size="12.90" font-weight="700" text-anchor="start"  style="fill:#0d0b0c" stroke="#FDEDE4" stroke-width="0.2">Keratinocyte</text>
<text x="143.0" y="197.5" font-size="12.90" font-weight="700" text-anchor="start"  style="fill:#0d0b0c" stroke="#FDEDE4" stroke-width="0.2">Mesangial cell</text>
<text x="401.0" y="100.6" font-size="12.90" font-weight="700" text-anchor="start"  style="fill:#0d0b0c" stroke="#FDEDE4" stroke-width="0.2">B cell</text>
<text x="477" y="123.3" font-size="12.9" font-weight="700" style="fill:#0d0b0c" stroke="#FDEDE4" stroke-width="0.2">Naïve CD4<tspan font-size="8" dy="-4.5">+</tspan><tspan dy="4.5"> T cell</tspan></text>
<text x="557.0" y="179.3" font-size="12.90" font-weight="700" text-anchor="start"  style="fill:#0d0b0c" stroke="#FDEDE4" stroke-width="0.2">Hepatocyte</text>
<text x="537.8" y="220.8" font-size="12.90" font-weight="700" text-anchor="start"  style="fill:#0d0b0c" stroke="#FDEDE4" stroke-width="0.2">PC12 cell</text>
<text x="537.0" y="329.0" font-size="13.05" font-weight="700" text-anchor="start"  style="fill:#0d0b0c" stroke="#FDEDE4" stroke-width="0.2">Megakaryocyte</text>
<text x="499.5" y="379.8" font-size="12.90" font-weight="700" text-anchor="middle"  style="fill:#0d0b0c" stroke="#FDEDE4" stroke-width="0.2">Hematopoietic</text>
<text x="500.3" y="395.0" font-size="12.90" font-weight="700" text-anchor="middle"  style="fill:#0d0b0c" stroke="#FDEDE4" stroke-width="0.2">stem cell</text>
<text x="239.8" y="296.8" font-size="12.90" font-weight="700" text-anchor="middle"  style="fill:#0d0b0c" stroke="#FDEDE4" stroke-width="0.2">Myeloma/</text>
<text x="240.7" y="313.4" font-size="12.90" font-weight="700" text-anchor="middle"  style="fill:#0d0b0c" stroke="#FDEDE4" stroke-width="0.2">plasmacytoma cell</text>
<text x="310.0" y="369.6" font-size="12.90" font-weight="700" text-anchor="start" textLength="49.8" lengthAdjust="spacingAndGlyphs" style="fill:#0d0b0c" stroke="#FDEDE4" stroke-width="0.2">Synovial</text>
<text x="308.6" y="384.6" font-size="12.90" font-weight="700" text-anchor="start"  style="fill:#0d0b0c" stroke="#FDEDE4" stroke-width="0.2">fibroblast</text>
<g shape-rendering="crispEdges"><rect x="0" y="0" width="1" height="450" fill="#DCDCDC"/><rect x="1" y="0" width="1" height="450" fill="#2B2829"/><rect x="2" y="0" width="1" height="450" fill="#4F4B4A"/><rect x="3" y="0" width="1" height="450" fill="#FFF7EC"/>
<rect x="796" y="0" width="1" height="450" fill="#FEF2E8"/><rect x="797" y="0" width="1" height="450" fill="#B5A8A2"/><rect x="798" y="0" width="1" height="450" fill="#232021"/><rect x="799" y="0" width="1" height="450" fill="#7C7C7C"/></g>
</svg></body></html>
